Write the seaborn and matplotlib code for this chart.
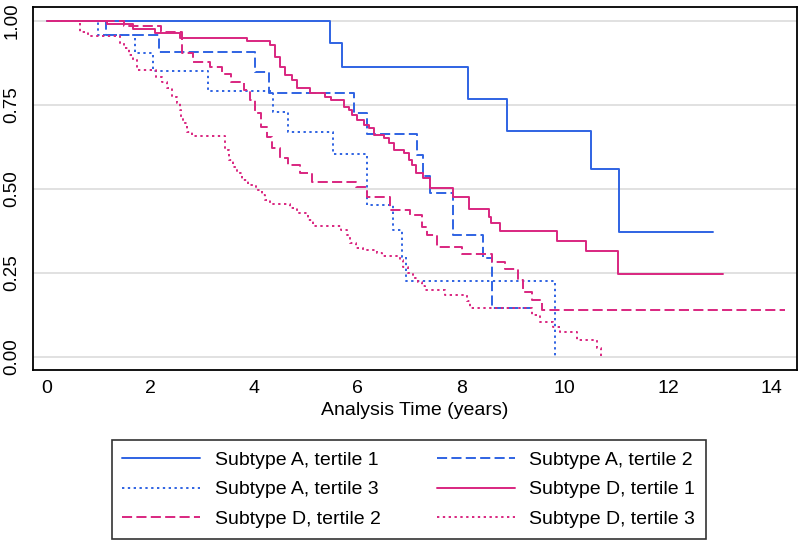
import matplotlib
matplotlib.use("Agg")
import matplotlib.pyplot as plt
import seaborn as sns

# Kaplan-Meier step curves
a1_time = [0, 5.47, 5.71, 8.13, 8.88, 10.51, 11.05, 12.86]
a1_surv = [1.0, 0.935, 0.861, 0.767, 0.672, 0.558, 0.372, 0.372]

a2_time = [0, 1.15, 2.17, 4.02, 4.30, 5.93, 6.18, 7.14, 7.26, 7.40, 7.85, 8.43, 8.59, 9.33]
a2_surv = [1.0, 0.957, 0.906, 0.847, 0.786, 0.724, 0.662, 0.600, 0.538, 0.486, 0.362, 0.293, 0.144, 0.144]

a3_time = [0, 1.0, 1.70, 2.06, 3.12, 4.37, 4.65, 5.52, 6.18, 6.69, 6.85, 6.94, 9.81]
a3_surv = [1.0, 0.957, 0.905, 0.850, 0.790, 0.729, 0.670, 0.602, 0.451, 0.377, 0.298, 0.225, 0.0]

d1_time = [0, 1.16, 1.66, 2.09, 2.57, 3.87, 4.32, 4.41, 4.51, 4.61, 4.74, 4.83, 5.09, 5.38,
           5.48, 5.73, 5.83, 5.90, 6.00, 6.12, 6.22, 6.32, 6.51, 6.61, 6.71, 6.90, 7.00, 7.06,
           7.13, 7.26, 7.40, 7.85, 8.16, 8.53, 8.58, 8.75, 9.85, 10.42, 11.03, 13.05]
d1_surv = [1.0, 0.99, 0.977, 0.965, 0.95, 0.94, 0.928, 0.893, 0.863, 0.838, 0.824, 0.799, 0.784, 0.772,
           0.764, 0.744, 0.734, 0.719, 0.704, 0.690, 0.680, 0.660, 0.650, 0.635, 0.615, 0.605, 0.585, 0.570,
           0.546, 0.531, 0.501, 0.476, 0.439, 0.417, 0.397, 0.374, 0.345, 0.315, 0.247, 0.247]

d2_time = [0, 1.50, 2.20, 2.61, 2.83, 3.15, 3.38, 3.55, 3.80, 3.92, 4.02, 4.13, 4.25, 4.34, 4.50,
           4.66, 4.89, 5.12, 5.97, 6.18, 6.63, 7.01, 7.24, 7.34, 7.53, 8.01, 8.59, 8.85, 9.10, 9.20,
           9.36, 9.56, 14.25]
d2_surv = [1.0, 0.985, 0.967, 0.905, 0.878, 0.863, 0.843, 0.818, 0.794, 0.764, 0.724, 0.685, 0.655, 0.620, 0.590,
           0.570, 0.546, 0.521, 0.506, 0.476, 0.437, 0.422, 0.387, 0.362, 0.327, 0.306, 0.283, 0.260, 0.228, 0.193,
           0.169, 0.139, 0.139]

d3_time = [0, 0.64, 0.80, 1.42, 1.50, 1.58, 1.66, 1.74, 2.12, 2.22,
           2.32, 2.41, 2.51, 2.57, 2.60, 2.64, 2.70, 2.80, 3.44, 3.51,
           3.60, 3.67, 3.78, 3.89, 4.05, 4.15, 4.21, 4.31, 4.70, 4.83,
           5.05, 5.15, 5.69, 5.79, 5.86, 5.98, 6.11, 6.37, 6.47, 6.82,
           6.88, 6.98, 7.08, 7.17, 7.24, 7.30, 7.69, 8.11, 8.17, 9.36,
           9.52, 9.78, 9.91, 10.23, 10.62, 10.71]
d3_surv = [1.0, 0.967, 0.954, 0.933, 0.918, 0.898, 0.883, 0.853, 0.833, 0.818,
           0.799, 0.774, 0.754, 0.734, 0.714, 0.695, 0.670, 0.657, 0.615, 0.585,
           0.565, 0.546, 0.526, 0.511, 0.496, 0.481, 0.466, 0.455, 0.442, 0.427,
           0.407, 0.389, 0.377, 0.362, 0.337, 0.323, 0.316, 0.308, 0.300, 0.288,
           0.268, 0.248, 0.233, 0.223, 0.210, 0.199, 0.184, 0.164, 0.144, 0.124,
           0.104, 0.089, 0.074, 0.050, 0.025, 0.0]

labels = ["Subtype A, tertile 1", "Subtype A, tertile 2", "Subtype A, tertile 3",
          "Subtype D, tertile 1", "Subtype D, tertile 2", "Subtype D, tertile 3"]
x_ticks = [0, 2, 4, 6, 8, 10, 12, 14]
y_ticks = [0.0, 0.25, 0.5, 0.75, 1.0]
y_ticklabels = ["0.00", "0.25", "0.50", "0.75", "1.00"]

blue = "#2f63e3"
pink = "#d92680"
solid = "-"
dashed = (0, (5.2, 2.2))
dotted = (0, (1.2, 1.8))

curves = [
    (a1_time, a1_surv, blue, solid),
    (a2_time, a2_surv, blue, dashed),
    (a3_time, a3_surv, blue, dotted),
    (d1_time, d1_surv, pink, solid),
    (d2_time, d2_surv, pink, dashed),
    (d3_time, d3_surv, pink, dotted),
]

sns.set_theme(style="white")
plt.rcParams['font.family'] = ['Liberation Sans', 'DejaVu Sans']
plt.rcParams['text.color'] = 'black'
plt.rcParams['axes.labelcolor'] = 'black'
plt.rcParams['xtick.labelcolor'] = 'black'
plt.rcParams['ytick.labelcolor'] = 'black'

fig = plt.figure(figsize=(8, 5.41), dpi=100)
ax = fig.add_axes([0.04125, 0.3161, 0.955, 0.6715])

for y in y_ticks:
    ax.axhline(y, color="#dcdcdc", linewidth=1.2, zorder=0)

handles = []
for (t, s, c, ls), lab in zip(curves, labels):
    sns.lineplot(x=t, y=s, ax=ax, color=c, linestyle=ls, linewidth=1.4,
                 drawstyle="steps-post", estimator=None, sort=False, label=lab)
    handles.append(ax.get_lines()[-1])

ax.get_legend().remove()

ax.set_xlim(-0.264, 14.484)
ax.set_ylim(-0.04, 1.042)
ax.set_xticks(x_ticks)
ax.set_yticks(y_ticks)
ax.set_yticklabels(y_ticklabels, rotation=90, va="center")
ax.tick_params(direction="out", length=6, width=1.2, labelsize=14,
               color="black", labelcolor="black")
ax.tick_params(axis="y", pad=3, labelsize=13.5)
ax.tick_params(axis="x", pad=1)
for sp in ax.spines.values():
    sp.set_color("black")
    sp.set_linewidth(1.3)

ax.set_xlabel("Analysis Time (years)", fontsize=14, labelpad=4, color="black")
ax.set_ylabel("")

# column-first order so rows read A1 A2 / A3 D1 / D2 D3
order = [0, 2, 4, 1, 3, 5]
leg = fig.legend([handles[i] for i in order], [labels[i] for i in order],
                 loc="center", bbox_to_anchor=(0.511, 0.095), ncol=2,
                 fontsize=14, frameon=True, fancybox=False, edgecolor="black",
                 handlelength=4.0, handletextpad=0.75, columnspacing=2.9,
                 labelspacing=0.63, borderpad=0.55, labelcolor="black")
leg.get_frame().set_linewidth(1.2)

fig.savefig("out.png", dpi=100)
